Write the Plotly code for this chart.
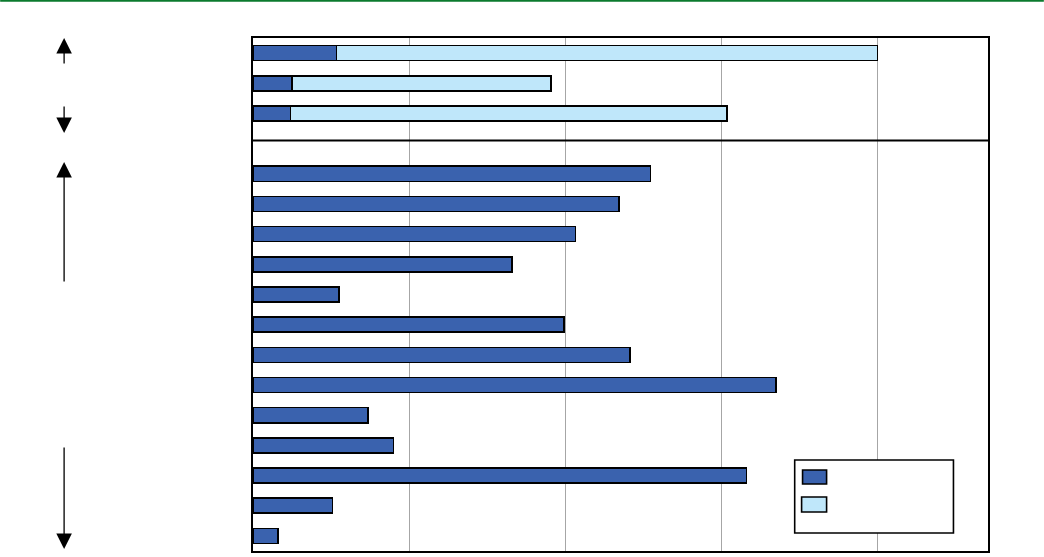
import plotly.graph_objects as go

# Row identifiers (the reference shows no visible labels); "gap" is the empty slot
categories = ["r1", "r2", "r3", "gap", "r4", "r5", "r6", "r7", "r8", "r9",
              "r10", "r11", "r12", "r13", "r14", "r15", "r16"]
rows = [c for c in categories if c != "gap"]

# Series 1 (dark blue) – all rows
series1 = [10.7, 5.0, 4.8,
           50.9, 46.9, 41.3, 33.2, 11.0, 39.8, 48.3, 67.0, 14.7, 18.0, 63.2, 10.2, 3.2]
# Series 2 (light blue) – first three rows only
series2_rows = ["r1", "r2", "r3"]
series2 = [69.3, 33.2, 55.9]

DARK = "#3A62AE"
LIGHT = "#BFE7FA"

fig = go.Figure()
fig.add_trace(go.Bar(y=rows, x=series1, orientation="h", width=0.5,
                     marker=dict(color=DARK, line=dict(color="black", width=1.6)),
                     showlegend=False, hoverinfo="x"))
fig.add_trace(go.Bar(y=series2_rows, x=series2, orientation="h", width=0.5,
                     marker=dict(color=LIGHT, line=dict(color="black", width=1.6)),
                     showlegend=False, hoverinfo="x"))

fig.update_layout(
    barmode="stack",
    width=1044, height=557,
    margin=dict(l=253, r=56, t=38, b=6, pad=0),
    paper_bgcolor="white", plot_bgcolor="white",
    font=dict(family="Arial, Liberation Sans, sans-serif"),
)
fig.update_xaxes(range=[0, 94.14], dtick=20, tick0=0, showgrid=True,
                 gridcolor="#A6A6A6", gridwidth=1, zeroline=False,
                 showticklabels=False, ticks="",
                 showline=True, linecolor="black", linewidth=2, mirror=True)
fig.update_yaxes(type="category", categoryorder="array", categoryarray=categories,
                 range=[16.5, -0.5], showgrid=False, zeroline=False,
                 showticklabels=False, ticks="",
                 showline=True, linecolor="black", linewidth=2, mirror=True)

shapes = []
# separator between the two groups
shapes.append(dict(type="line", xref="paper", yref="paper", x0=0, x1=1, y0=0.80, y1=0.80,
                   line=dict(color="black", width=2)))
# green rule at the very top of the figure
shapes.append(dict(type="line", xref="paper", yref="paper", x0=-0.344, x1=1.076,
                   y0=1.0724, y1=1.0724, line=dict(color="#0B7A2E", width=2)))
# legend box (labels absent in reference)
shapes.append(dict(type="rect", xref="paper", yref="paper", x0=0.737, x1=0.953,
                   y0=0.0351, y1=0.1774, fillcolor="white",
                   line=dict(color="black", width=1.6)))
shapes.append(dict(type="rect", xref="paper", yref="paper", x0=0.7477, x1=0.7804,
                   y0=0.1306, y1=0.1579, fillcolor=DARK,
                   line=dict(color="black", width=1.6)))
shapes.append(dict(type="rect", xref="paper", yref="paper", x0=0.7464, x1=0.7804,
                   y0=0.076, y1=0.1053, fillcolor=LIGHT,
                   line=dict(color="black", width=1.6)))
fig.update_layout(shapes=shapes)

# arrows on the left margin
arrow_x = -0.257
arrows = [(1.0, 27), (0.8148, -28), (0.7583, 121), (0.0039, -103)]
for y_tip, ay in arrows:
    fig.add_annotation(xref="paper", yref="paper", x=arrow_x, y=y_tip,
                       ax=0, ay=ay, text="", showarrow=True,
                       arrowhead=2, arrowsize=2.4, arrowwidth=1.3,
                       arrowcolor="black", standoff=0, startstandoff=0)

fig.write_html("out.html",
               config={"displayModeBar": False},
               post_script="document.body.style.margin='0';document.body.style.overflow='hidden';")
